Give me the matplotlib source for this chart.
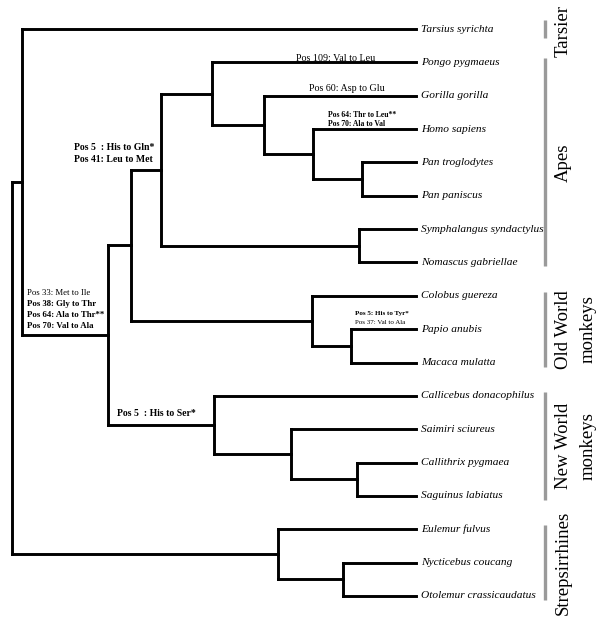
import matplotlib.pyplot as plt

plt.rcParams['font.family'] = ['Liberation Serif', 'DejaVu Serif']

# leaves, top to bottom
taxa = ['Tarsius syrichta', 'Pongo pygmaeus', 'Gorilla gorilla', 'Homo sapiens',
        'Pan troglodytes', 'Pan paniscus', 'Symphalangus syndactylus',
        'Nomascus gabriellae', 'Colobus guereza', 'Papio anubis', 'Macaca mulatta',
        'Callicebus donacophilus', 'Saimiri sciureus', 'Callithrix pygmaea',
        'Saguinus labiatus', 'Eulemur fulvus', 'Nycticebus coucang',
        'Otolemur crassicaudatus']
leaf_depth = 416

# internal nodes: name, depth, children
node_names = ['root', 'haplo', 'anthro', 'catarr', 'apes', 'great', 'hpg', 'hp',
              'pan', 'gibbon', 'owm', 'papmac', 'nwm', 'cebid', 'marmo', 'strep', 'loris']
node_depth = [12, 22, 108, 131, 161, 212, 264, 313, 362, 359, 312, 351, 214, 291, 357, 278, 343]
node_children = [['haplo', 'strep'],
                 ['Tarsius syrichta', 'anthro'],
                 ['catarr', 'nwm'],
                 ['apes', 'owm'],
                 ['great', 'gibbon'],
                 ['Pongo pygmaeus', 'hpg'],
                 ['Gorilla gorilla', 'hp'],
                 ['Homo sapiens', 'pan'],
                 ['Pan troglodytes', 'Pan paniscus'],
                 ['Symphalangus syndactylus', 'Nomascus gabriellae'],
                 ['Colobus guereza', 'papmac'],
                 ['Papio anubis', 'Macaca mulatta'],
                 ['Callicebus donacophilus', 'cebid'],
                 ['Saimiri sciureus', 'marmo'],
                 ['Callithrix pygmaea', 'Saguinus labiatus'],
                 ['Eulemur fulvus', 'loris'],
                 ['Nycticebus coucang', 'Otolemur crassicaudatus']]

groups = [('Tarsier', None), ('Apes', None), ('Old World', 'monkeys'),
          ('New World', 'monkeys'), ('Strepsirrhines', None)]
group_span = [(0, 0), (1, 7), (8, 10), (11, 14), (15, 17)]

fig = plt.figure(figsize=(6, 6.29), dpi=100)
ax = fig.add_axes([0, 0, 1, 1])
ax.set_xlim(0, 600)
ax.set_ylim(629, 0)
ax.axis('off')

top, step = 29, 33.35
ypos = {t: top + step * i for i, t in enumerate(taxa)}
xpos = {t: leaf_depth for t in taxa}
for n, d in zip(node_names, node_depth):
    xpos[n] = d
kids = dict(zip(node_names, node_children))

def place(n):
    if n in ypos:
        return ypos[n]
    ys = [place(c) for c in kids[n]]
    ypos[n] = sum(ys) / len(ys)
    return ypos[n]

place('root')

lk = dict(color='black', lw=2.1, solid_capstyle='projecting')
for n in node_names:
    ys = [ypos[c] for c in kids[n]]
    ax.plot([xpos[n], xpos[n]], [min(ys), max(ys)], **lk)
    for c in kids[n]:
        ax.plot([xpos[n], xpos[c]], [ypos[c], ypos[c]], **lk)

for t in taxa:
    ax.text(leaf_depth + 5, ypos[t], t, style='italic', fontsize=8.2,
            va='center', ha='left')

# clade bars and labels
for (l1, l2), (a, b) in zip(groups, group_span):
    y0, y1 = ypos[taxa[a]], ypos[taxa[b]]
    if a == b:
        y0, y1 = y0 - 9, y0 + 9
    else:
        y0, y1 = y0 - 4, y1 + 4
    ax.plot([545, 545], [y0, y1], color='#9a9a9a', lw=2.4, solid_capstyle='butt')
    yc = (y0 + y1) / 2
    if a == b:
        yc = 31
    ax.text(563, yc, l1, rotation=90, fontsize=13.5, ha='center', va='center')
    if l2:
        ax.text(588, yc, l2, rotation=90, fontsize=13.5, ha='center', va='center')

# substitutions on branches
subs = [
    (296, 61, 'Pos 109: Val to Leu', 'normal', 7.2, 'baseline'),
    (309, 91, 'Pos 60: Asp to Glu', 'normal', 7.2, 'baseline'),
    (328, 115, 'Pos 64: Thr to Leu**', 'bold', 5.5, 'center'),
    (328, 124, 'Pos 70: Ala to Val', 'bold', 5.5, 'center'),
    (74, 147, 'Pos 5  : His to Gln*', 'bold', 7, 'center'),
    (74, 159, 'Pos 41: Leu to Met', 'bold', 7, 'center'),
    (27, 293, 'Pos 33: Met to Ile', 'normal', 6.3, 'center'),
    (27, 304, 'Pos 38: Gly to Thr', 'bold', 6.3, 'center'),
    (27, 315, 'Pos 64: Ala to Thr**', 'bold', 6.3, 'center'),
    (27, 326, 'Pos 70: Val to Ala', 'bold', 6.3, 'center'),
    (355, 313, 'Pos 5: His to Tyr*', 'bold', 5, 'center'),
    (355, 323, 'Pos 37: Val to Ala', 'normal', 5, 'center'),
    (117, 414, 'Pos 5  : His to Ser*', 'bold', 7, 'center'),
]
for x, y, s, w, fs, va in subs:
    ax.text(x, y, s, fontweight=w, fontsize=fs, ha='left', va=va)

fig.savefig('out.png', dpi=100)
